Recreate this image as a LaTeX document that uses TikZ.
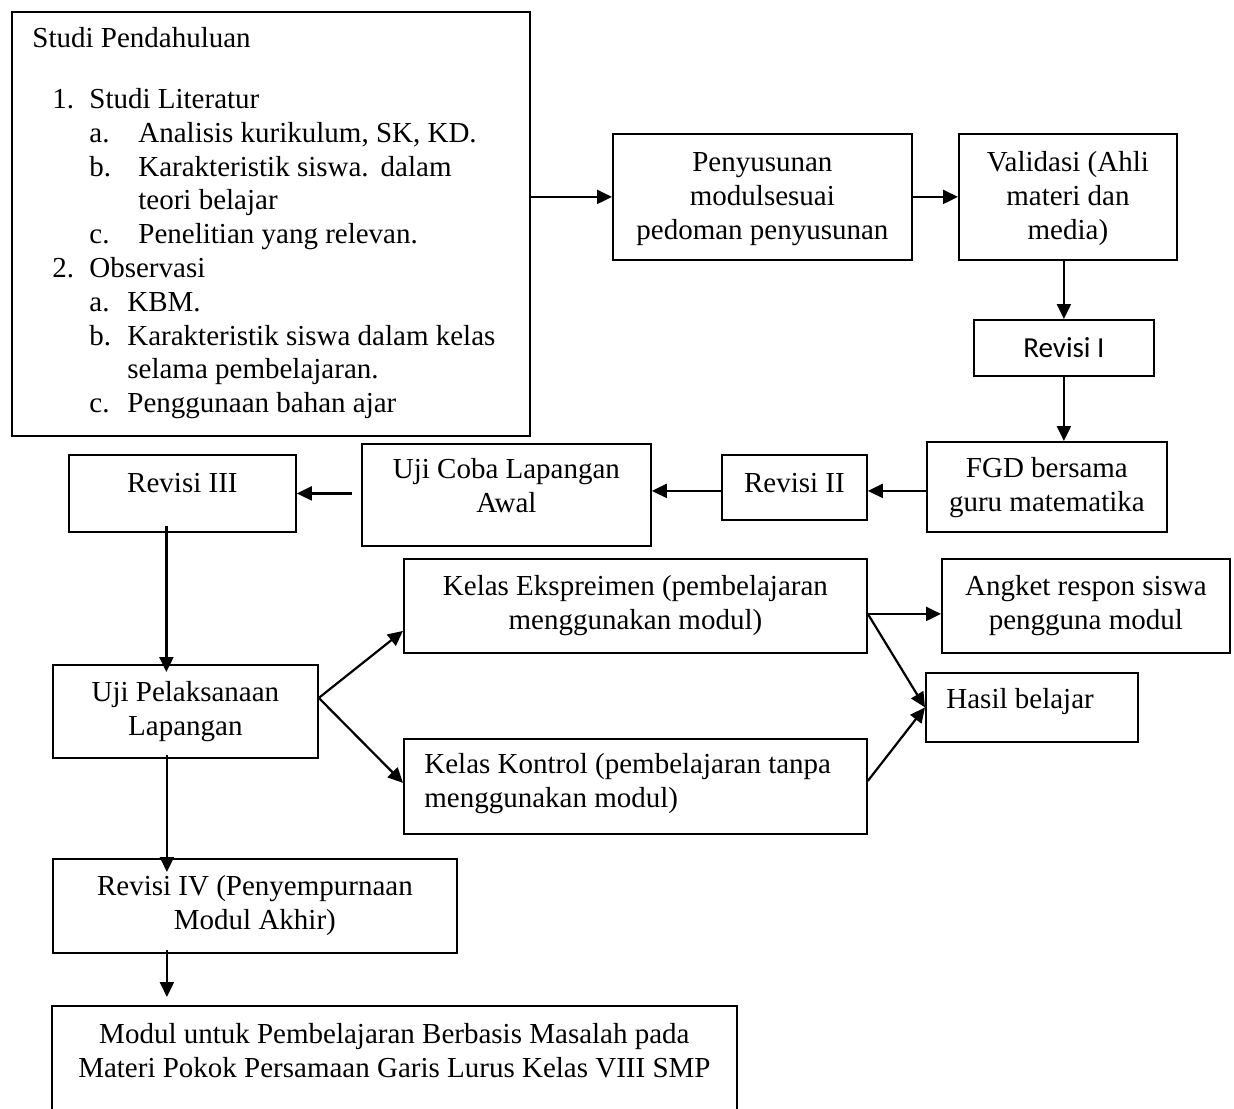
\documentclass[tikz,border=0pt]{standalone}
\usepackage{fontspec}
\setmainfont{Liberation Serif}
\newfontfamily\calibrifont{Carlito}
\usetikzlibrary{arrows.meta}
\tikzset{
  box/.style={draw, line width=0.9pt, inner sep=0pt},
  txt/.style={inner sep=0pt, align=center, font=\fontsize{14.5pt}{16.9pt}\selectfont},
  arr/.style={line width=1.1pt, -{Triangle[length=7.5pt,width=7pt]}},
}
\newcommand\mkbox[5]{\node[box, minimum width={(#4-#2)*0.5pt}, minimum height={(#5-#3)*0.5pt}, anchor=north west] (#1) at (#2,#3) {};}
\begin{document}
\begin{tikzpicture}[x=0.5pt,y=-0.5pt]
\useasboundingbox[fill=white] (0,0) rectangle (1234,1108);

% boxes
\mkbox{lit}{11}{11}{529}{435}
\mkbox{pen}{612}{133}{911}{259}
\mkbox{val}{958}{133}{1176}{259}
\mkbox{rev1}{973}{319}{1153}{375}
\mkbox{fgd}{926}{441}{1166}{531}
\mkbox{rev2}{721}{454}{866}{519}
\mkbox{ujc}{361}{443}{650}{545}
\mkbox{rev3}{68}{454}{295}{531}
\mkbox{ujp}{52}{664}{317}{757}
\mkbox{eks}{403}{558}{866}{652}
\mkbox{kon}{403}{738}{866}{833}
\mkbox{ang}{941}{558}{1229}{652}
\mkbox{has}{925}{672}{1137}{741}
\mkbox{rev4}{52}{858}{456}{952}
\node[inner sep=0pt, minimum width={684*0.5pt}, minimum height={102*0.5pt}, anchor=north west] (fin) at (52,1006) {};
\draw[line width=0.9pt] (fin.south west) |- (fin.north east) -- (fin.south east);

% texts
\node[txt, align=left, anchor=north west] (lit-t) at ([xshift=10.5pt]lit.north west) {%
\rule{0pt}{18pt}Studi Pendahuluan\\[13.6pt]
\hspace*{10pt}\makebox[18.5pt][l]{1.}Studi Literatur\\
\hspace*{28.5pt}\makebox[24.5pt][l]{a.}Analisis kurikulum, SK, KD.\\
\hspace*{28.5pt}\makebox[24.5pt][l]{b.}Karakteristik siswa.\hspace{6pt}dalam\\
\hspace*{53pt}teori belajar\\
\hspace*{28.5pt}\makebox[24.5pt][l]{c.}Penelitian yang relevan.\\
\hspace*{10pt}\makebox[18.5pt][l]{2.}Observasi\\
\hspace*{28.5pt}\makebox[19pt][l]{a.}KBM.\\
\hspace*{28.5pt}\makebox[19pt][l]{b.}Karakteristik siswa dalam kelas\\
\hspace*{47.5pt}selama pembelajaran.\\
\hspace*{28.5pt}\makebox[19pt][l]{c.}Penggunaan bahan ajar};
\node[txt, anchor=north] (pen-t) at (pen.north) {\rule{0pt}{19pt}Penyusunan\\modulsesuai\\pedoman penyusunan};
\node[txt, anchor=north] (val-t) at (val.north) {\rule{0pt}{19pt}Validasi (Ahli\\materi dan\\media)};
\node[txt, anchor=north, font=\calibrifont\fontsize{14.5pt}{17pt}\selectfont] (rev1-t) at (rev1.north) {\rule{0pt}{19pt}Revisi I};
\node[txt, anchor=north] (fgd-t) at (fgd.north) {\rule{0pt}{18pt}FGD bersama\\guru matematika};
\node[txt, anchor=north] (rev2-t) at (rev2.north) {\rule{0pt}{19pt}Revisi II};
\node[txt, anchor=north] (ujc-t) at (ujc.north) {\rule{0pt}{17.5pt}Uji Coba Lapangan\\Awal};
\node[txt, anchor=north] (rev3-t) at (rev3.north) {\rule{0pt}{19pt}Revisi III};
\node[txt, anchor=north] (ujp-t) at (ujp.north) {\rule{0pt}{18.5pt}Uji Pelaksanaan\\Lapangan};
\node[txt, anchor=north] (eks-t) at (eks.north) {\rule{0pt}{18.5pt}Kelas Ekspreimen (pembelajaran\\menggunakan modul)};
\node[txt, align=left, anchor=north west] (kon-t) at ([xshift=10.5pt]kon.north west) {\rule{0pt}{17.5pt}Kelas Kontrol (pembelajaran tanpa\\menggunakan modul)};
\node[txt, anchor=north] (ang-t) at (ang.north) {\rule{0pt}{18.5pt}Angket respon siswa\\pengguna modul};
\node[txt, align=left, anchor=north west] (has-t) at ([xshift=10.5pt]has.north west) {\rule{0pt}{18pt}Hasil belajar};
\node[txt, anchor=north] (rev4-t) at (rev4.north) {\rule{0pt}{18.5pt}Revisi IV (Penyempurnaan\\Modul Akhir)};
\node[txt, anchor=north] (fin-t) at (fin.north) {\rule{0pt}{18.5pt}Modul untuk Pembelajaran Berbasis Masalah pada\\Materi Pokok Persamaan Garis Lurus Kelas VIII SMP};

% connectors
\draw[arr] (lit.east |- pen.west) -- (pen.west);
\draw[arr] (pen.east) -- (val.west);
\draw[arr] (rev1.north |- val.south) -- (rev1.north);
\draw[arr] (rev1.south) -- (rev1.south |- fgd.north);
\coordinate (fgdL) at ([yshift=-2pt]fgd.west);
\draw[arr] (fgdL) -- (fgdL -| rev2.east);
\coordinate (rev2L) at ([yshift=-1.75pt]rev2.west);
\draw[arr] (rev2L) -- (rev2L -| ujc.east);
\coordinate (ujcL) at ([xshift=-4.5pt]ujc.west);
\draw[arr] (ujcL |- rev3.east) -- (rev3.east);
\coordinate (r3s) at ([xshift=-8pt,yshift=3.5pt]rev3.south);
\coordinate (upn) at ([yshift=-4pt]ujp.north);
\draw[arr] (r3s) -- (r3s |- upn);
\coordinate (sp) at ([yshift=6.75pt]ujp.east);
\draw[arr] (sp) -- ([yshift=-12.5pt]eks.west);
\draw[arr] (sp) -- ([yshift=1.75pt]kon.west);
\coordinate (ee) at ([yshift=-4pt]eks.east);
\draw[arr] (ee) -- (ee -| ang.west);
\draw[arr] (ee) -- (has.west);
\draw[arr] ([yshift=2.75pt]kon.east) -- (has.west);
\coordinate (ups) at ([xshift=-9.25pt,yshift=2pt]ujp.south);
\coordinate (r4n) at ([yshift=-7pt]rev4.north);
\draw[arr] (ups) -- (ups |- r4n);
\coordinate (r4s) at ([xshift=-44pt,yshift=2pt]rev4.south);
\coordinate (fnn) at ([yshift=4.5pt]fin.north);
\draw[arr] (r4s) -- (r4s |- fnn);
\end{tikzpicture}
\end{document}
